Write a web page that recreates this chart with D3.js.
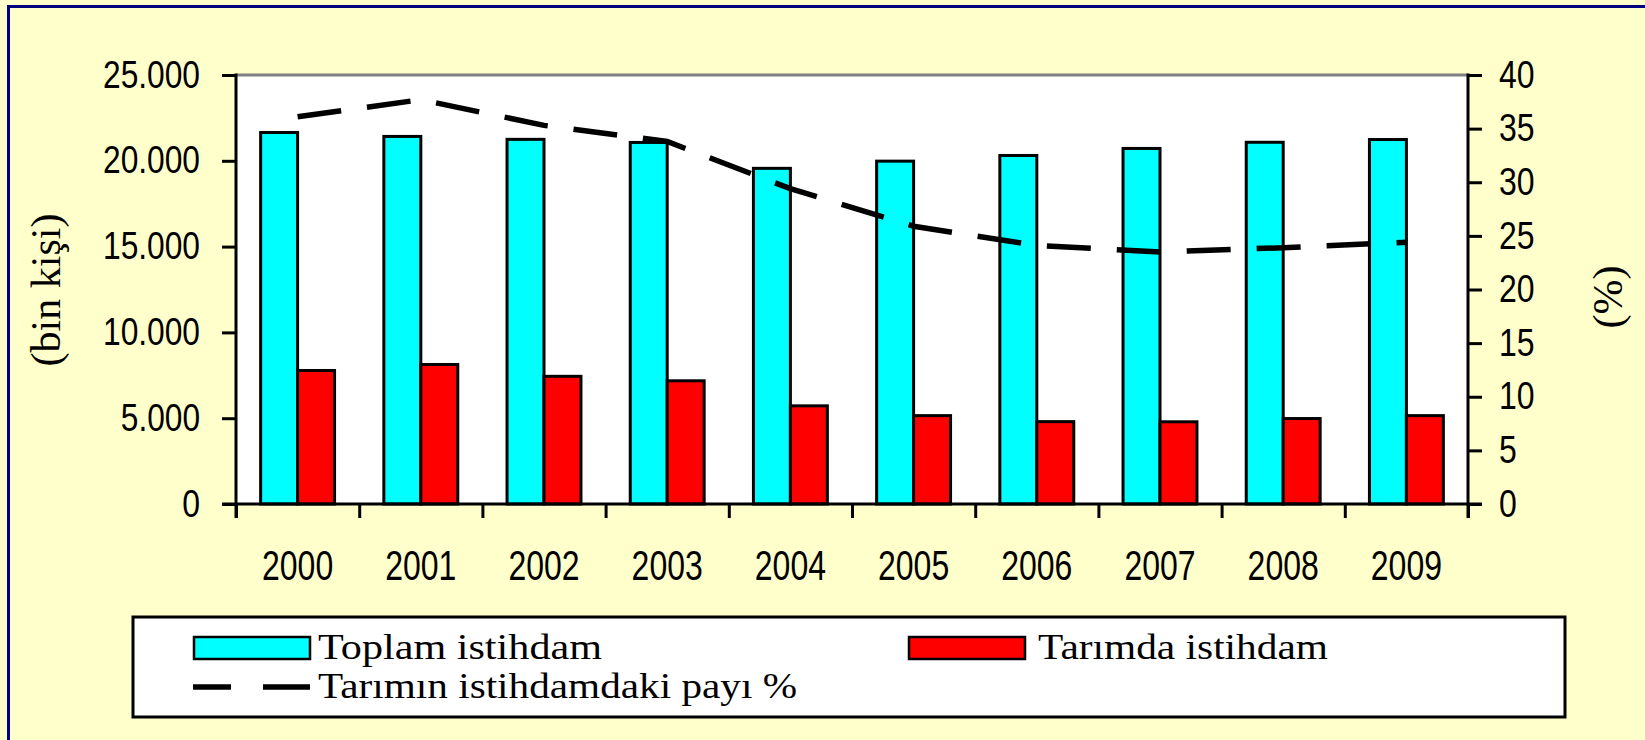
<!DOCTYPE html>
<html>
<head>
<meta charset="utf-8">
<script src="https://cdn.jsdelivr.net/npm/d3@7"></script>
<style>
  html, body { margin: 0; padding: 0; background: #FFFFCC; }
  svg { display: block; }
</style>
</head>
<body>
<div id="draw"></div>
<script>
var years = ["2000", "2001", "2002", "2003", "2004", "2005", "2006", "2007", "2008", "2009"];
var toplamIstihdam = [21650, 21420, 21250, 21070, 19560, 19980, 20310, 20720, 21080, 21240];
var tarimdaIstihdam = [7780, 8130, 7440, 7180, 5720, 5150, 4800, 4790, 4980, 5150];
var tarimPayi = [36.1, 37.7, 35.3, 33.8, 29.4, 25.9, 24.1, 23.5, 23.9, 24.4];
var leftTicks = [0, 5000, 10000, 15000, 20000, 25000];
var rightTicks = [0, 5, 10, 15, 20, 25, 30, 35, 40];
var seriesNames = ["Toplam istihdam", "Tarımda istihdam", "Tarımın istihdamdaki payı %"];

var W = 1645, H = 740;
var plotL = 236, plotR = 1468, plotT = 75, plotB = 504;
var numFont = "'Liberation Sans', Arial, sans-serif";
var serif = "'Liberation Serif', 'Times New Roman', serif";

var svg = d3.select('#draw').append('svg').attr('width', W).attr('height', H);

// background + frame (only left and top edges visible)
svg.append('rect').attr('width', W).attr('height', H).attr('fill', '#FFFFCC');
svg.append('line').attr('x1', 8.5).attr('x2', 8.5).attr('y1', 5).attr('y2', H)
    .attr('stroke', '#000080').attr('stroke-width', 3);
svg.append('line').attr('x1', 7).attr('x2', W).attr('y1', 6.5).attr('y2', 6.5)
    .attr('stroke', '#000080').attr('stroke-width', 3);

// plot area
svg.append('rect').attr('x', plotL).attr('y', plotT).attr('width', plotR - plotL).attr('height', plotB - plotT)
    .attr('fill', 'white');

var x0 = d3.scaleBand().domain(years).range([plotL, plotR]).paddingInner(0.4).paddingOuter(0.2);
var x1 = d3.scaleBand().domain(['toplam', 'tarim']).range([0, x0.bandwidth()]);
var yL = d3.scaleLinear().domain([0, 25000]).range([plotB, plotT]);
var yR = d3.scaleLinear().domain([0, 40]).range([plotB, plotT]);
var xEdges = d3.scaleLinear().domain([0, years.length]).range([plotL, plotR]);

var tr = d3.formatLocale({ decimal: ",", thousands: ".", grouping: [3], currency: ["", ""] });
var fmt = tr.format(",");

// bars
var groups = svg.selectAll('g.year')
    .data(years)
    .enter()
    .append('g')
    .attr('class', 'year')
    .attr('transform', function(d){ return 'translate(' + x0(d) + ',0)'; });

groups.append('rect')
    .attr('x', x1('toplam'))
    .attr('y', function(d, i){ return yL(toplamIstihdam[i]); })
    .attr('width', x1.bandwidth())
    .attr('height', function(d, i){ return plotB - yL(toplamIstihdam[i]); })
    .attr('fill', '#00FFFF').attr('stroke', 'black').attr('stroke-width', 3);

groups.append('rect')
    .attr('x', x1('tarim'))
    .attr('y', function(d, i){ return yL(tarimdaIstihdam[i]); })
    .attr('width', x1.bandwidth())
    .attr('height', function(d, i){ return plotB - yL(tarimdaIstihdam[i]); })
    .attr('fill', '#FF0000').attr('stroke', 'black').attr('stroke-width', 3);

// share line
var line = d3.line()
    .x(function(d, i){ return x0(years[i]) + x0.bandwidth() / 2; })
    .y(function(d){ return yR(d); });
svg.append('path').datum(tarimPayi)
    .attr('d', line)
    .attr('fill', 'none').attr('stroke', 'black').attr('stroke-width', 5.5)
    .attr('stroke-dasharray', '44,26');

// top edge of the plot
svg.append('line').attr('x1', plotL).attr('x2', plotR).attr('y1', plotT).attr('y2', plotT)
    .attr('stroke', '#808080').attr('stroke-width', 3);

// axes
var gL = svg.append('g').attr('transform', 'translate(' + plotL + ',0)')
    .call(d3.axisLeft(yL).tickValues(leftTicks).tickSize(14).tickPadding(22).tickFormat(fmt));
var gR = svg.append('g').attr('transform', 'translate(' + plotR + ',0)')
    .call(d3.axisRight(yR).tickValues(rightTicks).tickSize(14).tickPadding(17));
var gE = svg.append('g').attr('transform', 'translate(0,' + plotB + ')')
    .call(d3.axisBottom(xEdges).ticks(years.length).tickSize(14).tickFormat(''));
var gX = svg.append('g').attr('transform', 'translate(0,' + plotB + ')')
    .call(d3.axisBottom(x0).tickSize(0).tickPadding(46));

// narrow digits like the original bitmap font
function squeeze(sel){
    sel.attr('lengthAdjust', 'spacingAndGlyphs')
        .attr('textLength', function(){
            var s = this.textContent;
            var digits = s.replace(/[^0-9]/g, '').length;
            return digits * 17.8 + (s.length - digits) * 8;
        });
}

[gL, gR, gE, gX].forEach(function(g){
    g.selectAll('.domain').remove();
    g.selectAll('.tick line').attr('stroke', 'black').attr('stroke-width', 3);
    g.selectAll('text').attr('fill', 'black').style('font-family', numFont);
});
gL.selectAll('text').style('font-size', '38px').call(squeeze);
gR.selectAll('text').style('font-size', '38px').call(squeeze);
gX.selectAll('text').style('font-size', '42px').call(squeeze);

svg.append('line').attr('x1', plotL).attr('x2', plotL).attr('y1', plotT - 1.5).attr('y2', plotB + 14)
    .attr('stroke', 'black').attr('stroke-width', 3);
svg.append('line').attr('x1', plotR).attr('x2', plotR).attr('y1', plotT - 1.5).attr('y2', plotB + 14)
    .attr('stroke', 'black').attr('stroke-width', 3);
svg.append('line').attr('x1', plotL - 14).attr('x2', plotR + 14).attr('y1', plotB).attr('y2', plotB)
    .attr('stroke', 'black').attr('stroke-width', 3);

// axis titles
svg.append('text').attr('transform', 'translate(60,290) rotate(-90)')
    .attr('text-anchor', 'middle').style('font-family', serif).style('font-size', '42px')
    .text('(bin kişi)');
svg.append('text').attr('transform', 'translate(1622,297) rotate(-90)')
    .attr('text-anchor', 'middle').style('font-family', serif).style('font-size', '42px')
    .text('(%)');

// legend
svg.append('rect').attr('x', 133).attr('y', 617).attr('width', 1432).attr('height', 100)
    .attr('fill', 'white').attr('stroke', 'black').attr('stroke-width', 3);
svg.append('rect').attr('x', 194).attr('y', 637).attr('width', 116).attr('height', 22)
    .attr('fill', '#00FFFF').attr('stroke', 'black').attr('stroke-width', 2.5);
svg.append('rect').attr('x', 909).attr('y', 637).attr('width', 116).attr('height', 22)
    .attr('fill', '#FF0000').attr('stroke', 'black').attr('stroke-width', 2.5);
svg.append('line').attr('x1', 193).attr('x2', 310).attr('y1', 687).attr('y2', 687)
    .attr('stroke', 'black').attr('stroke-width', 5.5).attr('stroke-dasharray', '38,32,47');

var legendText = [
    { x: 318, y: 659, w: 284, t: seriesNames[0] },
    { x: 1038, y: 659, w: 290, t: seriesNames[1] },
    { x: 318, y: 698, w: 479, t: seriesNames[2] }
];
svg.selectAll('text.leg').data(legendText).enter().append('text')
    .attr('class', 'leg')
    .attr('x', function(d){ return d.x; })
    .attr('y', function(d){ return d.y; })
    .attr('textLength', function(d){ return d.w; })
    .attr('lengthAdjust', 'spacingAndGlyphs')
    .style('font-family', serif).style('font-size', '36px')
    .text(function(d){ return d.t; });
</script>
</body>
</html>
